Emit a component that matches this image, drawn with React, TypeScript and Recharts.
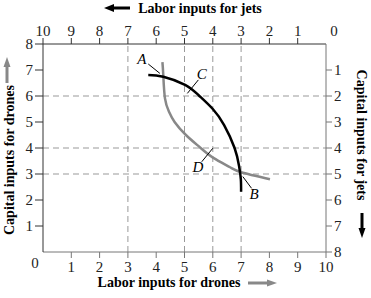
import {
  LineChart,
  Line,
  XAxis,
  YAxis,
  ReferenceLine,
  ReferenceDot,
} from "recharts";

// curve through A, C, B (black)
const blackCurve = [
  { x: 3.72, y: 6.81 },
  { x: 4.25, y: 6.74 },
  { x: 5.02, y: 6.43 },
  { x: 5.5, y: 6.03 },
  { x: 6.0, y: 5.5 },
  { x: 6.4, y: 4.88 },
  { x: 6.77, y: 4.0 },
  { x: 6.93, y: 3.3 },
  { x: 6.99, y: 2.8 },
  { x: 7.0, y: 2.32 },
];

// curve through A, D, B (gray)
const grayCurve = [
  { x: 4.22, y: 7.3 },
  { x: 4.25, y: 6.81 },
  { x: 4.31, y: 5.91 },
  { x: 4.45, y: 5.4 },
  { x: 4.65, y: 5.0 },
  { x: 5.05, y: 4.5 },
  { x: 5.55, y: 4.02 },
  { x: 6.02, y: 3.62 },
  { x: 6.61, y: 3.26 },
  { x: 7.0, y: 3.07 },
  { x: 8.02, y: 2.8 },
];

const gridX = [3, 5, 6, 7];
const gridY = [3, 4, 6];

const bottomTicks = [1, 2, 3, 4, 5, 6, 7, 8, 9, 10];
const leftTicks = [1, 2, 3, 4, 5, 6, 7, 8];
const topTicks = [0, 1, 2, 3, 4, 5, 6, 7, 8, 9];
const rightTicks = [0, 1, 2, 3, 4, 5, 6, 7];

const pointLabels = [
  { name: "A", x: 3.49, y: 7.45 },
  { name: "C", x: 5.61, y: 6.87 },
  { name: "D", x: 5.47, y: 3.28 },
  { name: "B", x: 7.46, y: 2.23 },
];

const leaders = [
  [{ x: 3.72, y: 7.23 }, { x: 4.13, y: 6.87 }],
  [{ x: 5.49, y: 6.62 }, { x: 5.1, y: 6.1 }],
  [{ x: 5.61, y: 3.47 }, { x: 6.0, y: 3.99 }],
  [{ x: 7.37, y: 2.45 }, { x: 7.06, y: 2.9 }],
];

const font = "'Liberation Serif', 'Times New Roman', serif";
const tickStyle = { fontFamily: font, fontSize: 15, fill: "#222" };

export default function App() {
  return (
    <div style={{ position: "absolute", left: 0, top: 0, width: 371, height: 298, background: "#fff" }}>
      <LineChart width={371} height={298} margin={{ top: 0, right: 0, bottom: 0, left: 0 }}>
        <XAxis
          xAxisId="b"
          type="number"
          dataKey="x"
          domain={[0, 10]}
          ticks={bottomTicks}
          height={46}
          tick={tickStyle}
          tickSize={6}
          tickMargin={3}
          stroke="#777"
          interval={0}
        />
        <XAxis
          xAxisId="t"
          orientation="top"
          type="number"
          dataKey="x"
          domain={[0, 10]}
          ticks={topTicks}
          tickFormatter={(v: number) => String(10 - v)}
          height={44}
          tick={tickStyle}
          tickSize={6}
          tickMargin={2}
          stroke="#333"
          interval={0}
        />
        <YAxis
          yAxisId="l"
          type="number"
          dataKey="y"
          domain={[0, 8]}
          ticks={leftTicks}
          width={43}
          tick={tickStyle}
          tickSize={8}
          tickMargin={2}
          stroke="#333"
          interval={0}
        />
        <YAxis
          yAxisId="r"
          orientation="right"
          type="number"
          dataKey="y"
          domain={[0, 8]}
          ticks={rightTicks}
          tickFormatter={(v: number) => String(8 - v)}
          width={45}
          tick={tickStyle}
          tickSize={6}
          tickMargin={2}
          stroke="#777"
          interval={0}
        />
        {gridX.map((v) => (
          <ReferenceLine key={"gx" + v} xAxisId="b" yAxisId="l" x={v} stroke="#999" strokeDasharray="6 4" />
        ))}
        {gridY.map((v) => (
          <ReferenceLine key={"gy" + v} xAxisId="b" yAxisId="l" y={v} stroke="#999" strokeDasharray="6 4" />
        ))}
        {/* invisible series so the top and right axes get drawn */}
        <Line
          xAxisId="t"
          yAxisId="r"
          data={grayCurve}
          dataKey="y"
          stroke="none"
          dot={false}
          legendType="none"
          isAnimationActive={false}
        />
        <Line
          xAxisId="b"
          yAxisId="l"
          data={grayCurve}
          dataKey="y"
          type="natural"
          stroke="#888"
          strokeWidth={2.5}
          dot={false}
          isAnimationActive={false}
        />
        <Line
          xAxisId="b"
          yAxisId="l"
          data={blackCurve}
          dataKey="y"
          type="natural"
          stroke="#000"
          strokeWidth={2.5}
          dot={false}
          isAnimationActive={false}
        />
        {leaders.map((seg, i) => (
          <ReferenceLine key={"ld" + i} xAxisId="b" yAxisId="l" segment={seg} stroke="#000" strokeWidth={1} />
        ))}
        {pointLabels.map((p) => (
          <ReferenceDot
            key={p.name}
            xAxisId="b"
            yAxisId="l"
            x={p.x}
            y={p.y}
            r={1}
            fill="none"
            stroke="none"
            label={{
              value: p.name,
              position: "center",
              fontFamily: font,
              fontSize: 15,
              fontStyle: "italic",
              fill: "#000",
            }}
          />
        ))}
      </LineChart>
      <svg
        width={371}
        height={298}
        style={{ position: "absolute", left: 0, top: 0, pointerEvents: "none" }}
        fontFamily={font}
      >
        <text x={35} y={268} fontSize={15} textAnchor="middle" fill="#222">0</text>
        <text x={334} y={36} fontSize={15} textAnchor="middle" fill="#222">0</text>
        {/* top title */}
        <text x={200} y={13} fontSize={14} fontWeight="bold" textAnchor="middle">Labor inputs for jets</text>
        <line x1={130} y1={8} x2={112} y2={8} stroke="#000" strokeWidth={3} />
        <polygon points="104,8 114,4 114,12" fill="#000" />
        {/* bottom title */}
        <text x={169} y={287} fontSize={14} fontWeight="bold" textAnchor="middle">Labor inputs for drones</text>
        <line x1={248} y1={283} x2={268} y2={283} stroke="#888" strokeWidth={3} />
        <polygon points="277,283 267,279.5 267,286.5" fill="#888" />
        {/* left title */}
        <text
          x={0}
          y={0}
          fontSize={14}
          fontWeight="bold"
          textAnchor="middle"
          transform="translate(14,160) rotate(-90)"
        >
          Capital inputs for drones
        </text>
        <line x1={7} y1={83} x2={7} y2={66} stroke="#888" strokeWidth={3} />
        <polygon points="7,57 3.5,67 10.5,67" fill="#888" />
        {/* right title */}
        <text
          x={0}
          y={0}
          fontSize={14}
          fontWeight="bold"
          textAnchor="middle"
          transform="translate(357,135) rotate(90)"
        >
          Capital inputs for jets
        </text>
        <line x1={362} y1={213} x2={362} y2={229} stroke="#000" strokeWidth={3} />
        <polygon points="362,238 358.5,228 365.5,228" fill="#000" />
      </svg>
    </div>
  );
}
